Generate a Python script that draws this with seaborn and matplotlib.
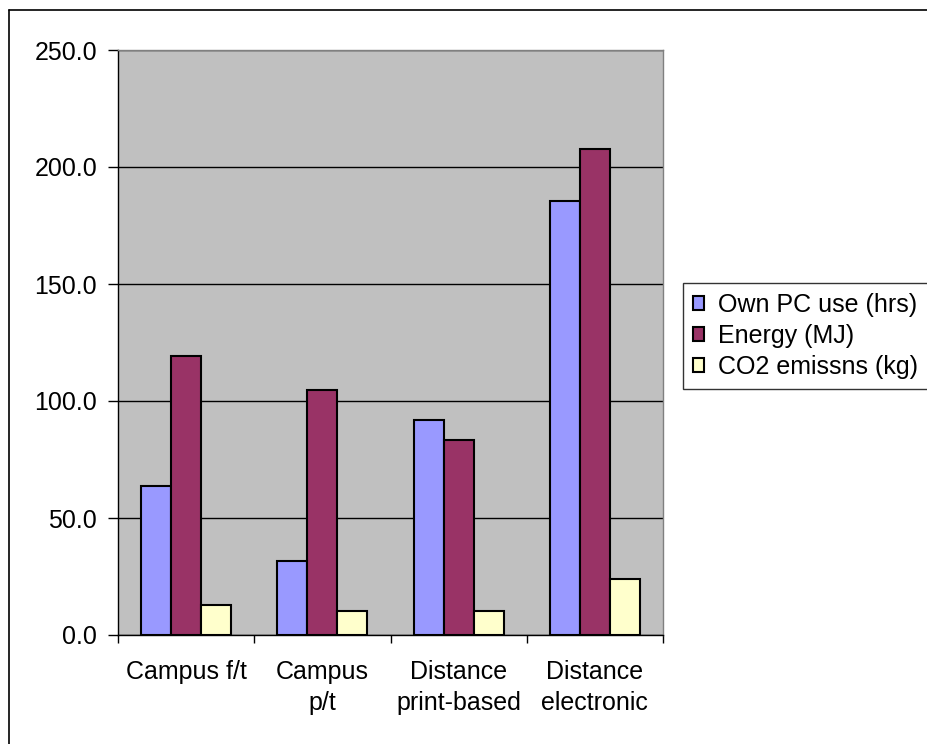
import matplotlib
matplotlib.use("Agg")
import matplotlib.pyplot as plt
import seaborn as sns
import pandas as pd
from matplotlib.lines import Line2D
from matplotlib.ticker import FixedLocator, FormatStrFormatter

categories = ["Campus f/t", "Campus\np/t", "Distance\nprint-based", "Distance\nelectronic"]
series_names = ["Own PC use (hrs)", "Energy (MJ)", "CO2 emissns (kg)"]
own_pc = [63.5, 31.8, 91.9, 185.5]
energy = [119.3, 104.6, 83.4, 207.7]
co2 = [12.9, 10.4, 10.4, 24.1]
colors = ["#9999FF", "#993366", "#FFFFCC"]
yticks = [0, 50, 100, 150, 200, 250]

rows = []
for name, vals in zip(series_names, [own_pc, energy, co2]):
    for c, v in zip(categories, vals):
        rows.append({"category": c, "series": name, "value": v})
df = pd.DataFrame(rows)

sns.set_theme(style="white")
plt.rcParams['font.family'] = ['Liberation Sans', 'DejaVu Sans']
plt.rcParams['text.color'] = 'black'
plt.rcParams['xtick.color'] = 'black'
plt.rcParams['ytick.color'] = 'black'

fig = plt.figure(figsize=(9.27, 7.44), dpi=100)
ax = fig.add_axes([118/927, 1-635/744, (663-118)/927, (635-50)/744])
ax.set_facecolor("#C0C0C0")

sns.barplot(data=df, x="category", y="value", hue="series", order=categories,
            hue_order=series_names, palette=colors, width=0.66, ax=ax,
            edgecolor="black", linewidth=1.5, saturation=1, legend=True)

ax.set_ylim(0, 250)
ax.set_xlim(-0.5, 3.5)
ax.set_yticks(yticks)
ax.yaxis.set_major_formatter(FormatStrFormatter("%.1f"))
ax.yaxis.grid(True, color="black", linewidth=1)
ax.set_axisbelow(True)
ax.set_xlabel("")
ax.set_ylabel("")

# x ticks at group boundaries, labels centered under groups
ax.set_xticks([-0.5, 0.5, 1.5, 2.5, 3.5])
ax.set_xticklabels([])
ax.xaxis.set_minor_locator(FixedLocator([0, 1, 2, 3]))
ax.set_xticklabels(categories, minor=True, fontsize=18, linespacing=1.35)
ax.tick_params(axis="x", which="major", direction="out", length=6, width=1, color="black", bottom=True)
ax.tick_params(axis="x", which="minor", length=0, pad=18, labelsize=18, labelcolor="black")
ax.tick_params(axis="y", which="major", direction="out", length=7, width=1, color="black",
               left=True, labelsize=18, pad=8, labelcolor="black")

for s in ["top", "right"]:
    ax.spines[s].set_color("#808080")
    ax.spines[s].set_linewidth(1)
for s in ["left", "bottom"]:
    ax.spines[s].set_color("black")
    ax.spines[s].set_linewidth(1)

leg = ax.legend(loc="upper left", bbox_to_anchor=(683/927, 1-283/744),
                bbox_transform=fig.transFigure, fontsize=18, frameon=True,
                fancybox=False, edgecolor="black", handlelength=0.45,
                handleheight=0.45, handletextpad=0.55, borderaxespad=0,
                labelspacing=0.28, borderpad=0.4)
leg.get_frame().set_linewidth(1)
for t in leg.get_texts():
    t.set_color("black")

# chart outer border (left and top edges visible)
fig.add_artist(Line2D([9/927, 9/927], [0, 1-10/744], transform=fig.transFigure,
                      color="black", linewidth=1.2))
fig.add_artist(Line2D([9/927, 1], [1-10/744, 1-10/744], transform=fig.transFigure,
                      color="black", linewidth=1.2))

fig.savefig("out.png", dpi=100)
